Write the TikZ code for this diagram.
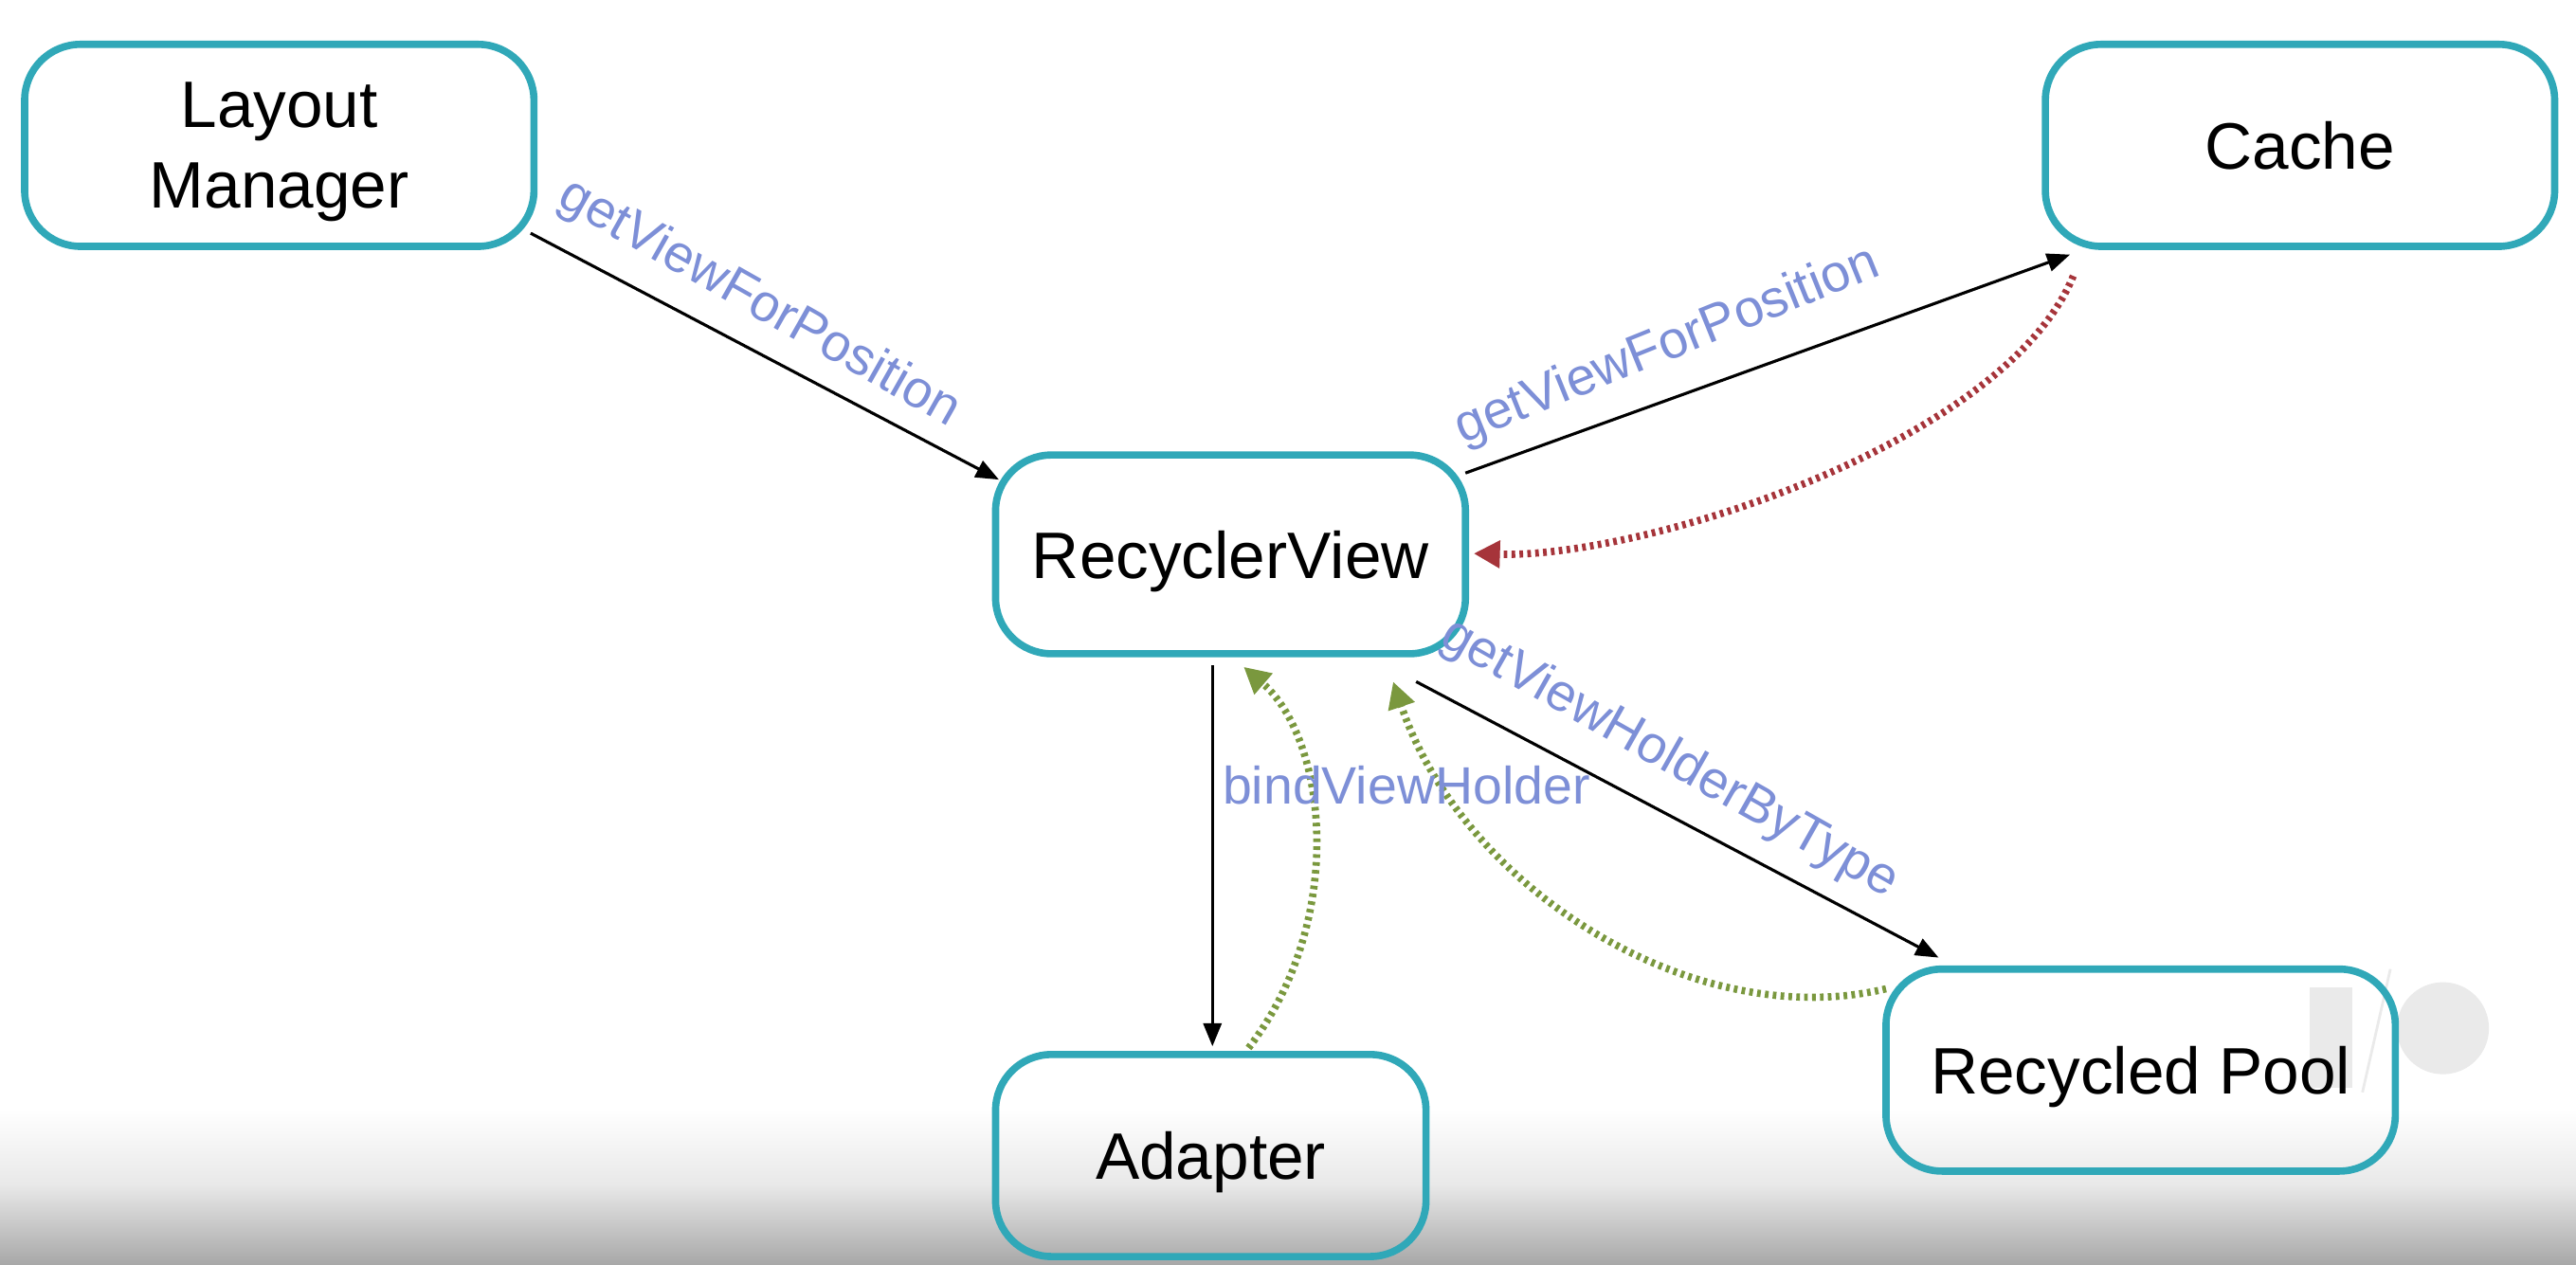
\documentclass[tikz,border=0pt]{standalone}
\usepackage{fontspec}
\setmainfont{Liberation Sans}
\usetikzlibrary{arrows.meta,calc}
\definecolor{boxc}{RGB}{48,168,184}
\definecolor{redc}{RGB}{166,52,58}
\definecolor{greenc}{RGB}{122,152,62}
\definecolor{lblc}{RGB}{125,143,215}
\definecolor{logoc}{RGB}{234,234,234}
\definecolor{grayA}{RGB}{232,232,232}
\definecolor{grayB}{RGB}{168,168,168}
\begin{document}
\begin{tikzpicture}[x=0.5pt,y=-0.5pt,
  box/.style={draw=boxc,line width=2.2pt,rounded corners=17pt,align=center,
    font=\fontsize{20}{24.5}\selectfont,inner sep=0pt,text depth=0pt},
  lbl/.style={text=lblc,font=\fontsize{16}{19}\selectfont,inner sep=0pt},
  blk/.style={draw=black,line width=0.9pt,-{Triangle[length=7pt,width=5.5pt]}},
  reddot/.style={draw=redc,line width=2.2pt,dash pattern=on 1.1pt off 1.3pt,
    -{Triangle[length=8pt,width=8pt]}},
  grdot/.style={draw=greenc,line width=2.2pt,dash pattern=on 1.1pt off 1.3pt,
    -{Triangle[length=8pt,width=8pt]}}]
\fill[white] (0,0) rectangle (1568,769.6);
\useasboundingbox (0,0) rectangle (1568,769.6);
\fill[top color=white,bottom color=grayA] (0,675) rectangle (1568,722);
\fill[top color=grayA,bottom color=grayB] (0,721.5) rectangle (1568,769.6);
% I/O watermark
\fill[logoc] (1406,601) rectangle (1432,662);
\fill[logoc] (1487,626) circle (28);
\draw[logoc,line width=0.8pt] (1455,590) -- (1438,665);
% nodes
\node[box,minimum width=155pt,minimum height=61.5pt] (lm) at (170,88.5) {Layout\\Manager};
\node[box,minimum width=155pt,minimum height=61.5pt] (cache) at (1400,88.5) {Cache};
\node[box,minimum width=143pt,minimum height=60.5pt] (rv) at (749,337.5) {RecyclerView};
\node[box,minimum width=131pt,minimum height=61.5pt] (ad) at (737,703.5) {Adapter};
\node[box,minimum width=155pt,minimum height=61.5pt] (rp) at (1303,651.5) {Recycled Pool};
% connectors
\draw[blk] ($(lm.center)+(153,53.5)$) -- ($(rv.center)+(-141,-45.5)$);
\draw[blk] ($(rv.center)+(143,-49.5)$) -- ($(cache.center)+(-140,66.5)$);
\draw[reddot] ($(cache.center)+(-138,79.5)$) .. controls (1220,270) and (1000,340) .. ($(rv.center)+(148,-0.5)$);
\draw[blk] ($(rv.center)+(-11,67.5)$) -- ($(ad.center)+(1,-66.5)$);
\draw[grdot] ($(ad.center)+(23,-65.5)$) .. controls (820,560) and (808,450) .. ($(rv.center)+(8,68.5)$);
\draw[blk] ($(rv.center)+(113,77.5)$) -- ($(rp.center)+(-123,-68.5)$);
\draw[grdot] ($(rp.center)+(-155,-49.5)$) .. controls (1030,630) and (890,540) .. ($(rv.center)+(99,77.5)$);
% labels
\node[lbl,rotate=-29.5] (l1) at (462,185) {getViewForPosition};
\node[lbl,rotate=22] (l2) at (1015,211) {getViewForPosition};
\node[lbl,rotate=-29.5] (l3) at (1016,462) {getViewHolderByType};
\node[lbl] (l4) at (856,478) {bindViewHolder};
\end{tikzpicture}
\end{document}
